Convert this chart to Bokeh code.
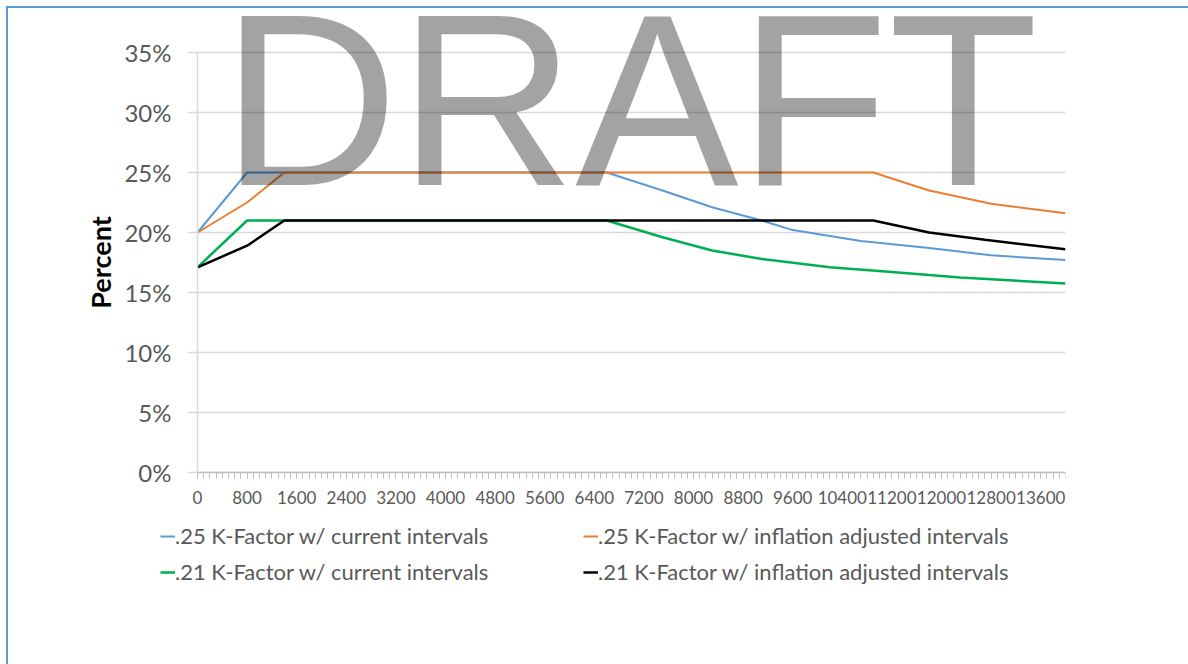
from bokeh.plotting import figure
from bokeh.models import (Range1d, FixedTicker, PrintfTickFormatter, Legend,
                          LegendItem, Label)
from bokeh.embed import file_html
from bokeh.resources import INLINE

# ---- data (x in the chart's units, y in percent) ----
blue_x = [0, 800, 6600, 7500, 8300, 9100, 9600, 10700, 11800, 12800, 14000]
blue_y = [20.0, 25.0, 25.0, 23.5, 22.1, 21.0, 20.2, 19.3, 18.7, 18.1, 17.7]

orange_x = [0, 800, 1400, 10900, 11800, 12800, 14000]
orange_y = [20.0, 22.5, 25.0, 25.0, 23.5, 22.4, 21.6]

green_x = [0, 800, 6600, 7500, 8300, 9100, 10200, 11200, 12300, 14000]
green_y = [17.1, 21.0, 21.0, 19.6, 18.5, 17.8, 17.1, 16.7, 16.25, 15.75]

black_x = [0, 800, 1400, 10900, 11800, 12700, 14000]
black_y = [17.1, 18.9, 21.0, 21.0, 20.0, 19.4, 18.6]

series_labels = [".25 K-Factor w/ current intervals",
                 ".25 K-Factor w/ inflation adjusted intervals",
                 ".21 K-Factor w/ current intervals",
                 ".21 K-Factor w/ inflation adjusted intervals"]

x_ticks = [0, 800, 1600, 2400, 3200, 4000, 4800, 5600, 6400, 7200, 8000,
           8800, 9600, 10400, 11200, 12000, 12800, 13600]
x_minor = list(range(0, 14001, 100))
y_ticks = [0, 5, 10, 15, 20, 25, 30, 35]

TXT = "#595959"
FONT = "Lato"

# frame spans px 0..1065 x 0..600; data 0..14000 -> 197..1065, 0..35% -> 472..52
PXX = 868.0 / 14000.0
PXY = 420.0 / 35.0
x_lo = -197.0 / PXX
y_hi = 35.0 + 52.0 / PXY
y_lo = -128.0 / PXY

p = figure(width=1188, height=664, output_backend="svg", toolbar_location=None,
           x_range=Range1d(x_lo, 14000), y_range=Range1d(y_lo, y_hi),
           min_border_left=0, min_border_right=123,
           min_border_top=0, min_border_bottom=64)
p.styles = {"box-shadow": "inset 6px 6px 0 0 white, inset 8px 8px 0 0 #5b9bd5"}
p.outline_line_color = None
p.background_fill_alpha = 0
p.border_fill_alpha = 0

# grid
p.xgrid.grid_line_color = None
p.ygrid.ticker = FixedTicker(ticks=y_ticks)
p.ygrid.grid_line_color = "#d9d9d9"
p.ygrid.grid_line_width = 1.5
p.ygrid.bounds = (0, 35)
p.ygrid.cross_bounds = (0, 14000)

# x axis
xa = p.xaxis[0]
xa.fixed_location = 0
xa.bounds = (0, 14000)
xa.ticker = FixedTicker(ticks=x_ticks, minor_ticks=x_minor)
xa.axis_line_color = "#bfbfbf"
xa.axis_line_width = 1.5
xa.major_tick_in = 0
xa.major_tick_out = 6
xa.minor_tick_in = 0
xa.minor_tick_out = 6
xa.major_tick_line_color = "#bfbfbf"
xa.minor_tick_line_color = "#bfbfbf"
xa.major_label_text_font = FONT
xa.major_label_text_font_size = "17px"
xa.major_label_text_color = TXT
xa.major_label_standoff = 12

# y axis
ya = p.yaxis[0]
ya.fixed_location = 0
ya.bounds = (0, 35)
ya.ticker = FixedTicker(ticks=y_ticks)
ya.formatter = PrintfTickFormatter(format="%d%%")
ya.axis_line_color = "#d9d9d9"
ya.axis_line_width = 1.5
ya.major_tick_in = 0
ya.major_tick_out = 10
ya.major_tick_line_color = "#d9d9d9"
ya.major_tick_line_width = 1.5
ya.minor_tick_line_color = None
ya.major_label_text_font = FONT
ya.major_label_text_font_size = "24px"
ya.major_label_text_color = TXT
ya.major_label_standoff = 16
ya.axis_label = "Percent"
ya.axis_label_text_font = FONT
ya.axis_label_text_font_size = "27px"
ya.axis_label_text_font_style = "bold"
ya.axis_label_text_color = "#000000"
ya.axis_label_standoff = 4

# lines
r_blue = p.line(blue_x, blue_y, line_color="#5b9bd5", line_width=2)
r_orange = p.line(orange_x, orange_y, line_color="#ed7d31", line_width=2)
r_green = p.line(green_x, green_y, line_color="#00b050", line_width=2.5)
r_black = p.line(black_x, black_y, line_color="#000000", line_width=2.5)


def make_legend(items, loc):
    lg = Legend(items=items, location=loc, orientation="horizontal")
    lg.background_fill_alpha = 0
    lg.border_line_color = None
    lg.padding = 0
    lg.margin = 0
    lg.spacing = 8
    lg.glyph_width = 15
    lg.glyph_height = 24
    lg.label_height = 24
    lg.label_width = 400
    lg.label_standoff = 0
    lg.label_text_font = FONT
    lg.label_text_font_size = "22px"
    lg.label_text_color = TXT
    return lg


legA = make_legend([LegendItem(label=series_labels[0], renderers=[r_blue]),
                    LegendItem(label=series_labels[1], renderers=[r_orange])],
                   (160, 51))
legB = make_legend([LegendItem(label=series_labels[2], renderers=[r_green]),
                    LegendItem(label=series_labels[3], renderers=[r_black])],
                   (160, 15))
p.add_layout(legA)
p.add_layout(legB)

# watermark
wm = Label(x=221, y=501, x_units="screen", y_units="screen", text="DRAFT",
           text_font="Liberation Sans", text_font_size="245px",
           text_color="black", text_alpha=0.36,
           text_baseline="alphabetic", text_align="left")
p.add_layout(wm)

open("out.html", "w").write(file_html(p, INLINE))
